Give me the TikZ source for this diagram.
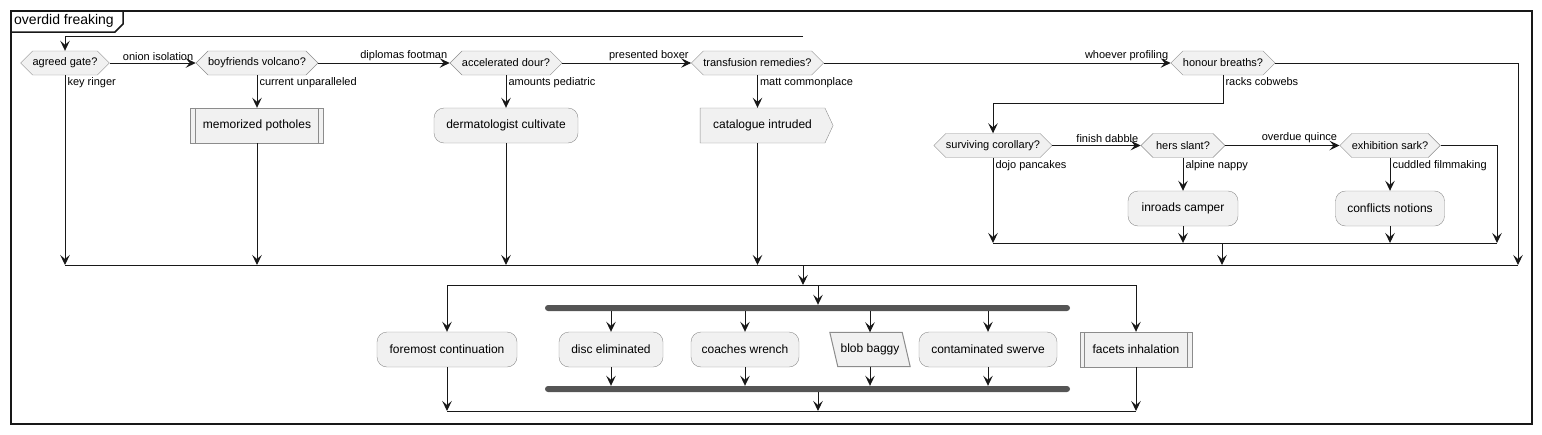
\documentclass[tikz,border=0pt]{standalone}
\usepackage{fontspec}
\setmainfont{Liberation Sans}
\usepackage{tikz}
\usetikzlibrary{arrows.meta,shapes.symbols,backgrounds,calc}
\definecolor{boxfill}{HTML}{F1F1F1}
\definecolor{boxline}{HTML}{8C8C8C}
\definecolor{ink}{HTML}{181818}
\definecolor{barfill}{HTML}{555555}
\newcommand{\subbars}[1]{%
    \draw[-, boxline, line width=1pt] ([xshift=5pt]#1.north west) -- ([xshift=5pt]#1.south west)
        ([xshift=-5pt]#1.north east) -- ([xshift=-5pt]#1.south east);}

\begin{document}
\begin{tikzpicture}[x=1pt, y=-1pt, ->,
        line/.style = {draw = ink, line width=1pt, >={Stealth[length=10pt,width=9.5pt,inset=4pt]}},
        plain/.style = {draw = ink, line width=1pt, -},
        decide/.style = {shape=signal, signal to=west and east, signal pointer angle=90,
            draw=boxline, fill=boxfill, minimum height=24pt, inner sep=0pt,
            font=\fontsize{11}{13}\selectfont},
        act/.style = {rectangle, rounded corners=10pt, draw=boxline, fill=boxfill,
            minimum height=35pt, inner sep=0pt, font=\fontsize{12}{14}\selectfont},
        subact/.style = {act, sharp corners},
        bar/.style = {rectangle, rounded corners=3pt, fill=barfill, draw=none,
            minimum width=525pt, minimum height=6pt, inner sep=0pt},
        elbl/.style = {font=\fontsize{11}{13}\selectfont, inner sep=2pt, text=black}]
    \useasboundingbox (0,0) rectangle (1542,434);
    \draw[-, line width=1.5pt, ink] (11,11) rectangle (1532,424);
    \draw[-, line width=1.5pt, ink] (11,32) -- (115,32) -- (123,24) -- (123,11);
    \node[anchor=west, inner sep=0pt, font=\fontsize{14}{16}\selectfont] (ttl) at (14,21) {overdid freaking};

    \foreach \nm/\x/\y/\w/\txt in {agr/65/63/88/agreed gate?, boy/257/63/122/boyfriends volcano?,
            acc/506/63/112/accelerated dour?, trf/757.5/63/131/transfusion remedies?,
            hon/1223/63/102/honour breaths?, sur/993/145.5/118/surviving corollary?,
            hrs/1183/145.5/84/hers slant?, exh/1390/145.5/98/exhibition sark?}
        \path node[decide, minimum width=\w pt] (\nm) at (\x,\y) {\txt};
    \foreach \nm/\x/\y/\w/\txt in {drm/506/125.5/144/dermatologist cultivate,
            inr/1183/208.5/110/inroads camper, cfl/1390/208.5/109/conflicts notions,
            frm/447/349.5/140/foremost continuation, dsc/611/349.5/104/disc eliminated,
            cch/745/349.5/108/coaches wrench, cnt/988/349.5/138/contaminated swerve}
        \path node[act, minimum width=\w pt] (\nm) at (\x,\y) {\txt};
    \foreach \nm/\x/\y/\w/\txt in {mem/257/125.5/133/memorized potholes,
            fct/1136/349.5/112/facets inhalation}
        \path node[subact, minimum width=\w pt] (\nm) at (\x,\y) {\txt};
    \subbars{mem}
    \subbars{fct}
    \node[act, shape=signal, signal to=east, signal pointer angle=130, rounded corners=0pt,
        minimum width=133pt] (cat) at (762.5,125.5) {catalogue intruded};
    \node[act, draw=none, fill=none, minimum width=72pt, minimum height=34pt] (blb) at (870,349.5) {blob baggy};
    \begin{pgfonlayer}{background}
        \draw[-, draw=boxline, fill=boxfill, line width=1pt] ([xshift=-4pt]blb.north west) -- ([xshift=-4pt]blb.north east)
            -- ([xshift=4pt]blb.south east) -- ([xshift=4pt]blb.south west) -- cycle;
    \end{pgfonlayer}
    \node[bar] (fork) at (807.5,308) {};
    \node[bar] (join) at (807.5,389) {};

    \coordinate (loopR) at (803,36);
    \coordinate (rk) at (1224,103);
    \coordinate (innerR) at (1497,243);
    \coordinate (innerM) at (1222,243);
    \coordinate (mainL) at (65,265);
    \coordinate (mainR) at (1518,265);
    \coordinate (mainM) at (803,265);
    \coordinate (split) at (803,285);
    \coordinate (splitL) at (447,285);
    \coordinate (splitM) at (818,285);
    \coordinate (splitR) at (1136,285);
    \coordinate (botL) at (447,411);
    \coordinate (botM) at (818,411);
    \coordinate (botR) at (1136,411);

    \path[line] (loopR) -| (agr.north);
    \path[line] (agr.east) -- node[elbl, pos=1, above left] {onion isolation} (boy.west);
    \path[line] (agr.south) -- node[elbl, pos=0, below right] {key ringer} (agr.south |- mainL);
    \path[line] (boy.east) -- node[elbl, pos=1, above left] {diplomas footman} (acc.west);
    \path[line] (boy.south) -- node[elbl, pos=0, below right] {current unparalleled} (mem.north);
    \path[line] (mem.south) -- (mem.south |- mainL);
    \path[line] (acc.east) -- node[elbl, pos=1, above left] {presented boxer} (trf.west);
    \path[line] (acc.south) -- node[elbl, pos=0, below right] {amounts pediatric} (drm.north);
    \path[line] (drm.south) -- (drm.south |- mainL);
    \path[line] (trf.east) -- node[elbl, pos=1, above left] {whoever profiling} (hon.west);
    \path[line] (trf.south) -- node[elbl, pos=0, below right] {matt commonplace} (trf.south |- cat.north);
    \path[line] (trf.south |- cat.south) -- (trf.south |- mainL);
    \path[line] (hon.east) -| (mainR);
    \path[line] (hon.south) -- node[elbl, pos=0, below right] {racks cobwebs} (hon.south |- rk) -| (sur.north);
    \path[line] (sur.east) -- node[elbl, pos=1, above left] {finish dabble} (hrs.west);
    \path[line] (sur.south) -- node[elbl, pos=0, below right] {dojo pancakes} (sur.south |- innerR);
    \path[line] (hrs.east) -- node[elbl, pos=1, above left] {overdue quince} (exh.west);
    \path[line] (hrs.south) -- node[elbl, pos=0, below right] {alpine nappy} (inr.north);
    \path[line] (inr.south) -- (inr.south |- innerR);
    \path[line] (exh.south) -- node[elbl, pos=0, below right] {cuddled filmmaking} (cfl.north);
    \path[line] (cfl.south) -- (cfl.south |- innerR);
    \path[line] (exh.east) -| (innerR);
    \path[plain] (sur.south |- innerR) -- (innerR);
    \path[line] (innerM) -- (innerM |- mainL);
    \path[plain] (mainL) -- (mainR);
    \path[line] (mainM) -- (split);
    \path[plain] (splitL) -- (splitR);
    \path[line] (splitL) -- (frm.north);
    \path[line] (splitM) -- (splitM |- fork.north);
    \path[line] (splitR) -- (fct.north);
    \foreach \nm in {dsc,cch,blb,cnt} {
        \path[line] (\nm.north |- fork.south) -- (\nm.north);
        \path[line] (\nm.south) -- (\nm.south |- join.north);
    }
    \path[line] (splitM |- join.south) -- (botM);
    \path[line] (frm.south) -- (botL);
    \path[line] (fct.south) -- (botR);
    \path[plain] (botL) -- (botR);
\end{tikzpicture}
\end{document}
